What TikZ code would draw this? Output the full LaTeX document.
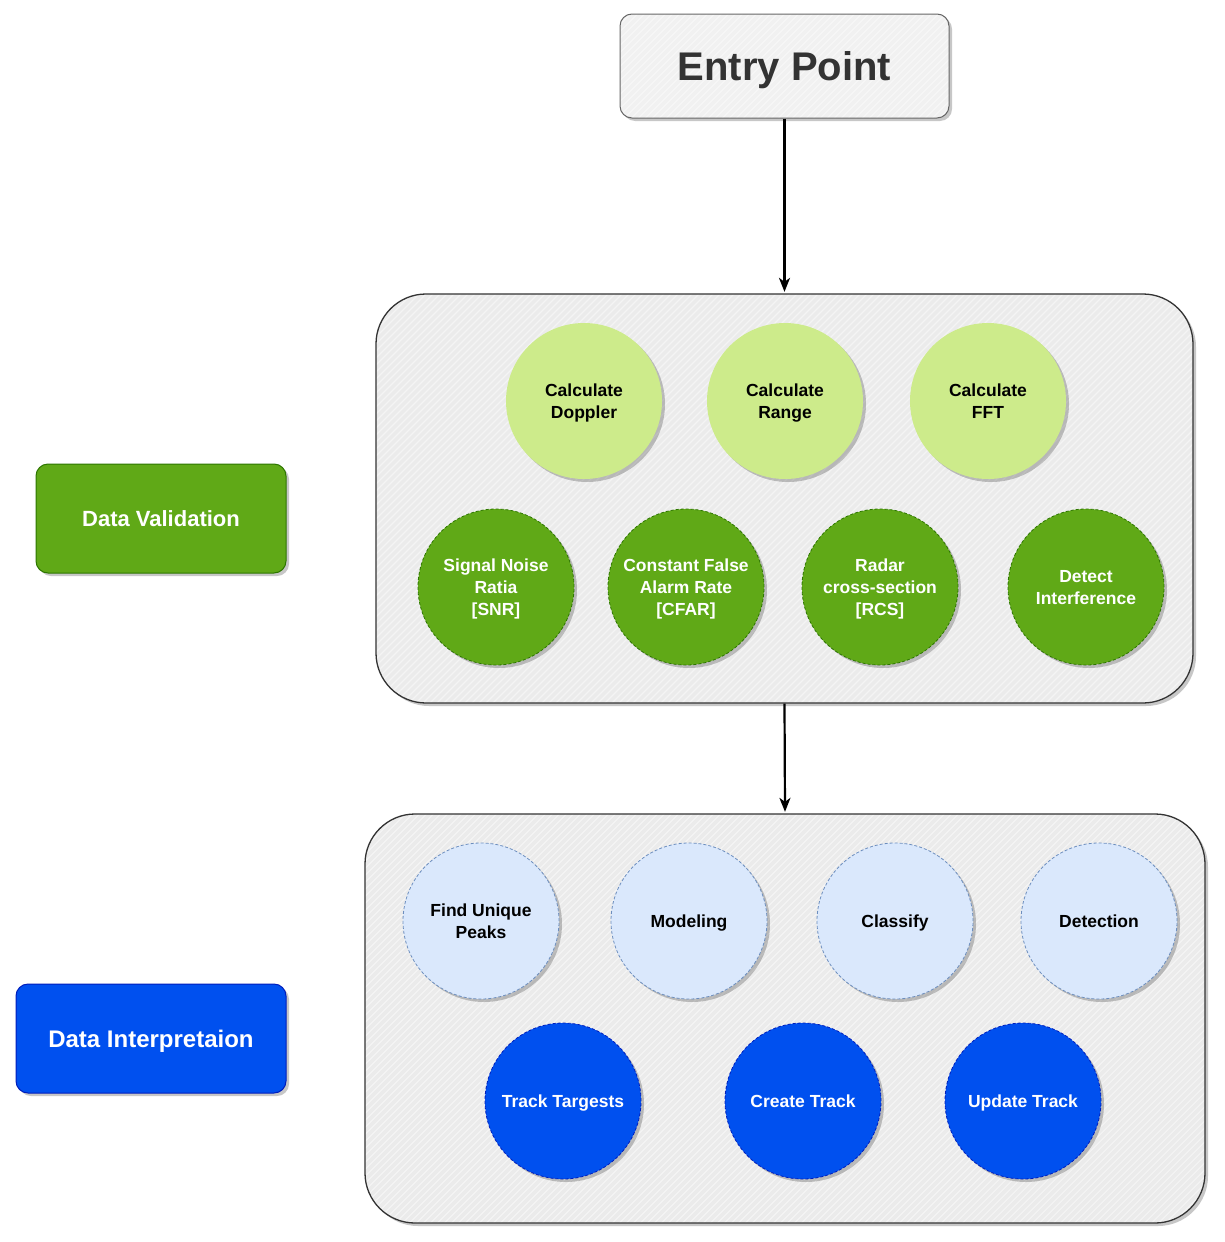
\documentclass[tikz,border=0pt]{standalone}
\usepackage{fontspec}
\setmainfont{Liberation Sans}
\usetikzlibrary{shadows,arrows.meta}
\definecolor{lgreen}{HTML}{CDEB8B}
\definecolor{dgreen}{HTML}{60A917}
\definecolor{dgreenline}{HTML}{2D7600}
\definecolor{lblue}{HTML}{DAE8FC}
\definecolor{lblueline}{HTML}{6C8EBF}
\definecolor{dblue}{HTML}{0050EF}
\definecolor{dblueline}{HTML}{001DBC}
\definecolor{boxgray}{HTML}{F1F1F1}
\definecolor{contgray}{HTML}{EBEBEB}
\definecolor{txtdark}{HTML}{333333}
\begin{document}
\begin{tikzpicture}[x=1pt,y=-1pt,
  shade/.style={drop shadow={shadow xshift=3pt,shadow yshift=-3pt,fill=black,opacity=0.22}},
  hatch/.style={path picture={
      \foreach \i in {-1900,-1893,...,500}{
        \draw[white, opacity=0.45, line width=1.1pt]
          ([shift={(\i,700)}]path picture bounding box.center) -- ++(1400,-1400);
      }}},
  container/.style={draw=black!80, line width=1.3pt, fill=contgray, rounded corners=50pt, inner sep=0pt, shade, hatch},
  entrybox/.style={draw=black!60, line width=1pt, fill=boxgray, rounded corners=12pt, inner sep=0pt, minimum width=329pt, minimum height=104pt, text=txtdark, text depth=0pt, font=\fontsize{40}{46}\selectfont\bfseries, shade, hatch},
  bubble/.style={circle, inner sep=0pt, minimum size=156pt, align=center, text depth=0pt, font=\fontsize{17.5}{22}\selectfont\bfseries, shade},
  lgc/.style={bubble, fill=lgreen, text=black},
  dgc/.style={bubble, fill=dgreen, draw=dgreenline, dash pattern=on 3pt off 2pt, line width=0.8pt, text=white},
  lbc/.style={bubble, fill=lblue, draw=lblueline, dash pattern=on 3pt off 2pt, line width=0.8pt, text=black},
  dbc/.style={bubble, fill=dblue, draw=dblueline, dash pattern=on 3pt off 2pt, line width=0.8pt, text=white},
  sidelabel/.style={rounded corners=12pt, inner sep=0pt, minimum height=109pt, text=white, text depth=0pt, line width=1pt, font=\fontsize{22}{26}\selectfont\bfseries, shade},
  flow/.style={draw=black, line width=2.2pt, -{Stealth[length=14pt,width=11pt,inset=4pt]}}
]
\useasboundingbox (0,0) rectangle (1224,1242);

% entry point
\node[entrybox] (entry) at (784.5,66) {Entry Point};

% containers
\node[container, minimum width=817pt, minimum height=409pt] (c1) at (784.5,498.5) {};
\node[container, minimum width=840pt, minimum height=409pt] (c2) at (785,1018.5) {};

% side labels
\node[sidelabel, fill=dgreen, draw=dgreenline, minimum width=250pt] (dv) at (161,518.5) {Data Validation};
\node[sidelabel, fill=dblue, draw=dblueline, minimum width=270pt, font=\fontsize{24}{28}\selectfont\bfseries] (di) at (151,1038.5) {Data Interpretaion};

% row 1
\node[lgc] (doppler) at (584,401) {Calculate\\Doppler};
\node[lgc] (range) at (785,401) {Calculate\\Range};
\node[lgc] (fft) at (988,401) {Calculate\\FFT};

% row 2
\node[dgc] (snr) at (496,587) {Signal Noise\\Ratia\\{[SNR]}};
\node[dgc] (cfar) at (686,587) {Constant False\\Alarm Rate\\{[CFAR]}};
\node[dgc] (rcs) at (880,587) {Radar\\cross-section\\{[RCS]}};
\node[dgc] (interf) at (1086,587) {Detect\\Interference};

% row 3
\node[lbc] (peaks) at (481,921) {Find Unique\\Peaks};
\node[lbc] (model) at (689,921) {Modeling};
\node[lbc] (classify) at (895,921) {Classify};
\node[lbc] (detect) at (1099,921) {Detection};

% row 4
\node[dbc] (track) at (563,1101) {Track Targests};
\node[dbc] (create) at (803,1101) {Create Track};
\node[dbc] (update) at (1023,1101) {Update Track};

% connectors
\draw[flow] (entry.south) -- ([yshift=1.5pt]c1.north);
\draw[flow] (c1.south) -- ([yshift=1.5pt]c2.north);
\end{tikzpicture}
\end{document}
